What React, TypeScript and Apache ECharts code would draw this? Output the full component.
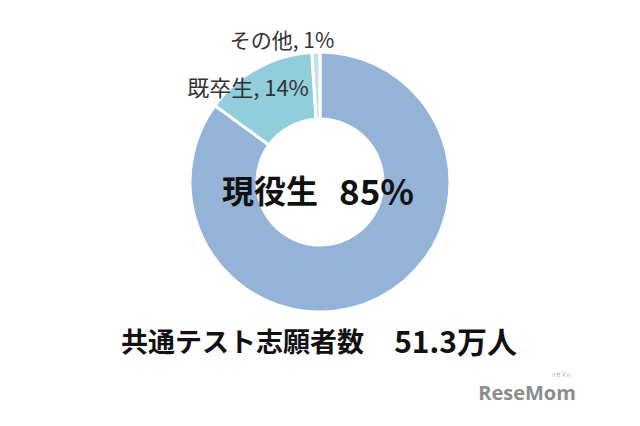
import React, { useEffect, useRef } from "react";
import * as echarts from "echarts";

const categories = ["現役生", "既卒生", "その他"];
const shares = [85, 14, 1];
const sliceColors = ["#95b3d7", "#92cddc", "#c2e3ec"];
const centerName = "現役生";
const centerValue = "85%";
const titleLeft = "共通テスト志願者数";
const titleRight = "51.3万人";

const FONT = '"Noto Sans CJK JP", "Noto Sans", sans-serif';

export default function App() {
  const ref = useRef<HTMLDivElement>(null);
  useEffect(() => {
    if (!ref.current) return;
    const chart = echarts.init(ref.current, null, { renderer: "svg" });
    const labelPos: Record<string, [number, number]> = {
      "既卒生": [248, 86],
      "その他": [282, 39],
    };
    const bigText = (text: string, x: number, y: number, size: number, align: string) => ({
      type: "text",
      x,
      y,
      z: 100,
      style: {
        text,
        fontFamily: FONT,
        fontSize: size,
        fontWeight: "bold",
        fill: "#111111",
        align,
        verticalAlign: "middle",
      },
    });
    chart.setOption({
      animation: false,
      backgroundColor: "#ffffff",
      series: [
        {
          type: "pie",
          center: [320, 182],
          radius: [63, 130],
          startAngle: 90,
          clockwise: true,
          avoidLabelOverlap: false,
          itemStyle: { borderColor: "#ffffff", borderWidth: 3 },
          label: {
            show: true,
            position: "outside",
            formatter: (p: any) => `${p.name}, ${p.value}%`,
            fontFamily: FONT,
            fontSize: 21,
            color: "#333333",
          },
          labelLine: { show: false },
          labelLayout: (params: any) => {
            const name = categories[params.dataIndex];
            const pos = labelPos[name];
            if (!pos) return {};
            return { x: pos[0], y: pos[1], align: "center", verticalAlign: "middle" };
          },
          data: categories.map((c, i) => ({
            name: c,
            value: shares[i],
            itemStyle: { color: sliceColors[i] },
            label: { show: i !== 0, fontSize: i === 1 ? 22 : 21 },
          })),
        },
      ],
      graphic: [
        bigText(centerName, 222, 189, 32, "left"),
        bigText(centerValue, 414, 189, 35, "right"),
        bigText(titleLeft, 121, 340, 27, "left"),
        bigText(titleRight, 517, 340, 30, "right"),
        {
          type: "text",
          x: 527,
          y: 392,
          z: 100,
          style: {
            text: "ReseMom",
            fontFamily: '"Open Sans", "Noto Sans", sans-serif',
            fontSize: 20,
            fontWeight: "bold",
            fill: "#8c8c8c",
            align: "center",
            verticalAlign: "middle",
          },
        },
        {
          type: "text",
          x: 561,
          y: 373,
          z: 100,
          style: {
            text: "リセマム",
            fontFamily: FONT,
            fontSize: 5,
            fill: "#999999",
            align: "center",
            verticalAlign: "middle",
          },
        },
      ],
    });
    return () => chart.dispose();
  }, []);
  return (
    <div
      ref={ref}
      style={{ position: "absolute", left: 0, top: 0, width: 640, height: 426 }}
    />
  );
}
